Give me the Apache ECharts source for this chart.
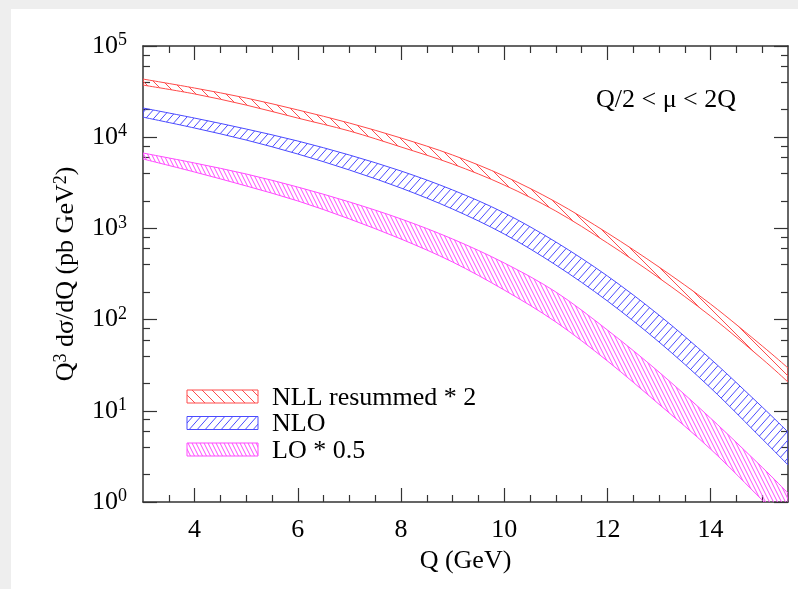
<!DOCTYPE html>
<html>
<head>
<meta charset="utf-8">
<script src="https://cdn.jsdelivr.net/npm/echarts@6/dist/echarts.min.js"></script>
<style>
  html, body { margin: 0; padding: 0; width: 798px; height: 589px; background: #eeeeee; overflow: hidden; }
  #chart { position: absolute; left: 11px; top: 9px; width: 787px; height: 580px; background: #fff; }
</style>
</head>
<body>
<div id="chart"></div>
<script>
// Q (GeV) sample points
const Q = [3, 4, 5, 6, 7, 8, 9, 10, 11, 12, 13, 14, 15, 15.5];
// NLL resummed * 2 band
const nllHi = [43400, 34600, 26900, 19900, 14300, 9800, 6380, 3750, 1950, 891, 377, 148, 51.4, 29.5];
const nllLo = [37300, 29800, 22500, 16200, 11700, 7810, 5080, 2990, 1550, 692, 286, 109, 37.0, 20.7];
// NLO band
const nloHi = [20900, 16200, 12300, 9080, 6380, 4260, 2640, 1480, 710, 301, 112, 37.0, 11.0, 5.86];
const nloLo = [16600, 12600, 9310, 6540, 4370, 2770, 1630, 868, 397, 160, 56.8, 17.8, 4.91, 2.55];
// LO * 0.5 band
const loHi = [6710, 5210, 3950, 2840, 1950, 1270, 765, 418, 201, 76.9, 26.6, 8.3, 2.4, 1.25];
const loLo = [5770, 4150, 2920, 2000, 1270, 765, 428, 211, 94.2, 35.2, 11.8, 3.8, 1.05, 0.55];

const xTicks = [4, 6, 8, 10, 12, 14];
const xMinor = [3.5, 4.5, 5, 5.5, 6.5, 7, 7.5, 8.5, 9, 9.5, 10.5, 11, 11.5, 12.5, 13, 13.5, 14.5, 15];
const yTicks = [1, 10, 100, 1000, 10000, 100000];
const yMinor = [2, 4, 6, 8, 20, 40, 60, 80, 200, 400, 600, 800, 2000, 4000, 6000, 8000,
  20000, 40000, 60000, 80000];

const FONT = 'Liberation Serif';
const FS = 26;
const AXIS = '#333';

// hatch tiles
function hatch(color, w, h, dir) {
  const c = document.createElement('canvas');
  c.width = w; c.height = h;
  const g = c.getContext('2d');
  g.strokeStyle = color;
  g.lineWidth = 1;
  for (let k = -1; k <= 1; k++) {
    g.beginPath();
    if (dir === 'back') { g.moveTo(k * w, 0); g.lineTo(k * w + w, h); }
    else { g.moveTo(k * w, h); g.lineTo(k * w + w, 0); }
    g.stroke();
  }
  return { image: c, repeat: 'repeat' };
}

const bands = [
  { name: 'NLL resummed * 2', hi: nllHi, lo: nllLo, color: '#ff4a4a', fill: hatch('#ff4a4a', 10, 10, 'back') },
  { name: 'NLO', hi: nloHi, lo: nloLo, color: '#4a4aff', fill: hatch('#4a4aff', 8, 9, 'fwd') },
  { name: 'LO * 0.5', hi: loHi, lo: loLo, color: '#ff4aff', fill: hatch('#ff4aff', 4, 8, 'back') }
];

// smooth path through pixel points (Catmull-Rom)
function curve(pts, start) {
  let d = (start ? 'M' : 'L') + pts[0][0] + ' ' + pts[0][1];
  for (let i = 0; i < pts.length - 1; i++) {
    const p0 = pts[i - 1] || pts[i], p1 = pts[i], p2 = pts[i + 1], p3 = pts[i + 2] || p2;
    const c1 = [p1[0] + (p2[0] - p0[0]) / 6, p1[1] + (p2[1] - p0[1]) / 6];
    const c2 = [p2[0] - (p3[0] - p1[0]) / 6, p2[1] - (p3[1] - p1[1]) / 6];
    d += ' C' + c1[0] + ' ' + c1[1] + ' ' + c2[0] + ' ' + c2[1] + ' ' + p2[0] + ' ' + p2[1];
  }
  return d;
}

const series = bands.map(b => ({
  type: 'custom',
  name: b.name,
  clip: true,
  silent: true,
  data: Q.map((q, i) => [q, b.lo[i], b.hi[i]]),
  renderItem: function (params, api) {
    if (params.dataIndex !== 0) return;
    const up = Q.map((q, i) => api.coord([q, b.hi[i]]));
    const dn = Q.map((q, i) => api.coord([q, b.lo[i]])).reverse();
    return {
      type: 'path',
      shape: { pathData: curve(up, true) + ' ' + curve(dn, false) + ' Z' },
      style: { fill: b.fill, stroke: b.color, lineWidth: 1 }
    };
  }
}));

const chart = echarts.init(document.getElementById('chart'));

const xBase = { type: 'value', min: 3, max: 15.5, gridIndex: 0, splitLine: { show: false } };
const yBase = { type: 'log', logBase: 10, min: 1, max: 100000, gridIndex: 0, splitLine: { show: false } };
const lineOn = { show: true, lineStyle: { color: AXIS, width: 1.5 } };
const tickStyle = { color: AXIS, width: 1.2 };
const sup = { fontFamily: FONT, fontSize: 18, color: '#000', verticalAlign: 'top', padding: [0, 0, 11, 0] };

chart.setOption({
  animation: false,
  textStyle: { fontFamily: FONT },
  grid: { left: 132, top: 37, right: 10, bottom: 87 },
  xAxis: [
    Object.assign({}, xBase, {
      position: 'bottom',
      axisLine: lineOn,
      axisTick: { show: true, inside: true, length: 14, lineStyle: tickStyle, customValues: xTicks },
      axisLabel: { customValues: xTicks, fontFamily: FONT, fontSize: FS, color: '#000', margin: 15 },
      name: 'Q (GeV)', nameLocation: 'middle', nameGap: 38,
      nameTextStyle: { fontFamily: FONT, fontSize: FS, color: '#000' }
    }),
    Object.assign({}, xBase, {
      position: 'bottom', axisLine: { show: false },
      axisTick: { show: true, inside: true, length: 7, lineStyle: tickStyle, customValues: xMinor },
      axisLabel: { show: false }
    }),
    Object.assign({}, xBase, {
      position: 'top', axisLine: lineOn,
      axisTick: { show: true, inside: true, length: 14, lineStyle: tickStyle, customValues: xTicks },
      axisLabel: { show: false }
    }),
    Object.assign({}, xBase, {
      position: 'top', axisLine: { show: false },
      axisTick: { show: true, inside: true, length: 7, lineStyle: tickStyle, customValues: xMinor },
      axisLabel: { show: false }
    })
  ],
  yAxis: [
    Object.assign({}, yBase, {
      position: 'left',
      axisLine: lineOn,
      axisTick: { show: true, inside: true, length: 14, lineStyle: tickStyle, customValues: yTicks },
      axisLabel: {
        customValues: yTicks, fontFamily: FONT, fontSize: FS, color: '#000', margin: 16,
        formatter: v => '10{s|' + Math.round(Math.log10(v)) + '}',
        rich: { s: sup }
      },
      name: '{n|Q}{s|3}{n| dσ/dQ (pb GeV}{s|2}{n|)}',
      nameLocation: 'middle', nameGap: 62, nameRotate: 90,
      nameTextStyle: {
        fontFamily: FONT, fontSize: FS, color: '#000',
        rich: { n: { fontFamily: FONT, fontSize: FS, color: '#000' }, s: sup }
      }
    }),
    Object.assign({}, yBase, {
      position: 'left', axisLine: { show: false },
      axisTick: { show: true, inside: true, length: 7, lineStyle: tickStyle, customValues: yMinor },
      axisLabel: { show: false }
    }),
    Object.assign({}, yBase, {
      position: 'right', axisLine: lineOn,
      axisTick: { show: true, inside: true, length: 14, lineStyle: tickStyle, customValues: yTicks },
      axisLabel: { show: false }
    }),
    Object.assign({}, yBase, {
      position: 'right', axisLine: { show: false },
      axisTick: { show: true, inside: true, length: 7, lineStyle: tickStyle, customValues: yMinor },
      axisLabel: { show: false }
    })
  ],
  series: series,
  graphic: [
    { type: 'text', left: 585, top: 78,
      style: { text: 'Q/2 < μ < 2Q', fontFamily: FONT, fontSize: FS, fill: '#000' } }
  ].concat(bands.flatMap((b, i) => [
    { type: 'rect', shape: { x: 176, y: 381 + i * 26.5, width: 71, height: 13 },
      style: { fill: b.fill, stroke: b.color, lineWidth: 1 } },
    { type: 'text', x: 261, y: 389 + i * 26.5,
      style: { text: b.name, fontFamily: FONT, fontSize: FS, fill: '#000', verticalAlign: 'middle' } }
  ]))
});
</script>
</body>
</html>
